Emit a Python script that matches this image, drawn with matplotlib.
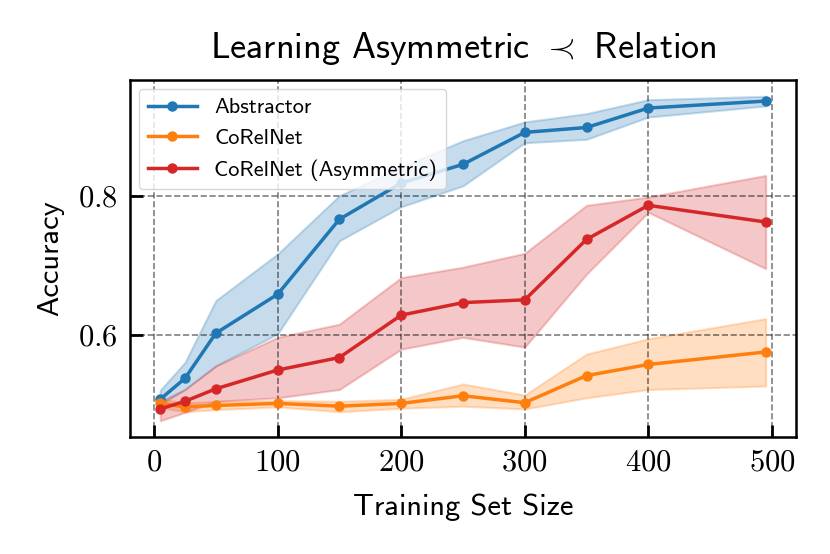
import matplotlib.pyplot as plt
import numpy as np

plt.rcParams["mathtext.fontset"] = "cm"
plt.rcParams["font.family"] = ["cmss10", "DejaVu Sans"]
plt.rcParams["axes.unicode_minus"] = False

train_sizes = [5, 25, 50, 100, 150, 200, 250, 300, 350, 400, 495]

abstractor_mean = [0.508, 0.538, 0.603, 0.659, 0.767, 0.819, 0.846, 0.892, 0.899, 0.927, 0.937]
abstractor_lo = [0.500, 0.522, 0.556, 0.602, 0.736, 0.785, 0.815, 0.877, 0.882, 0.914, 0.930]
abstractor_hi = [0.521, 0.561, 0.650, 0.717, 0.801, 0.842, 0.880, 0.907, 0.919, 0.939, 0.944]

corelnet_mean = [0.502, 0.497, 0.499, 0.502, 0.498, 0.502, 0.513, 0.503, 0.542, 0.558, 0.576]
corelnet_lo = [0.496, 0.490, 0.493, 0.497, 0.490, 0.495, 0.498, 0.494, 0.510, 0.522, 0.527]
corelnet_hi = [0.508, 0.503, 0.505, 0.506, 0.505, 0.508, 0.530, 0.514, 0.573, 0.595, 0.624]

asym_mean = [0.494, 0.505, 0.523, 0.550, 0.568, 0.629, 0.647, 0.651, 0.738, 0.787, 0.763]
asym_lo = [0.477, 0.489, 0.505, 0.510, 0.522, 0.580, 0.597, 0.583, 0.688, 0.777, 0.696]
asym_hi = [0.505, 0.522, 0.556, 0.597, 0.616, 0.683, 0.698, 0.718, 0.787, 0.799, 0.830]

series = [
    ("Abstractor", "#1f77b4", abstractor_mean, abstractor_lo, abstractor_hi),
    ("CoRelNet", "#ff7f0e", corelnet_mean, corelnet_lo, corelnet_hi),
    ("CoRelNet (Asymmetric)", "#d62728", asym_mean, asym_lo, asym_hi),
]

fig = plt.figure(figsize=(8.3, 5.54), dpi=100)
ax = fig.add_axes([0.1566, 0.2112, 0.8024, 0.6444])

for name, color, mean, lo, hi in series:
    ax.fill_between(train_sizes, lo, hi, color=color, alpha=0.25, linewidth=1.5)
    ax.plot(train_sizes, mean, color=color, marker="o", markersize=6.5, linewidth=2.5, label=name)

ax.set_xticks([0, 100, 200, 300, 400, 500])
ax.set_yticks([0.6, 0.8])
ax.xaxis.set_major_formatter(plt.FuncFormatter(lambda v, p: "$%d$" % v))
ax.yaxis.set_major_formatter(plt.FuncFormatter(lambda v, p: "$%.1f$" % v))
ax.tick_params(direction="in", length=9, width=2, labelsize=22, pad=9)
for s in ax.spines.values():
    s.set_linewidth(1.8)

ax.grid(True, linestyle="--", color="black", alpha=0.5, linewidth=1.2)

ax.set_title(r"Learning Asymmetric $\prec$ Relation", fontsize=26, pad=16)
ax.set_xlabel("Training Set Size", fontsize=22, labelpad=12)
ax.set_ylabel("Accuracy", fontsize=22, labelpad=10)

ax.legend(loc="upper left", fontsize=16, framealpha=0.8, borderaxespad=0.4,
          handlelength=2.2, edgecolor="0.8")

fig.savefig("out.png", dpi=100)
